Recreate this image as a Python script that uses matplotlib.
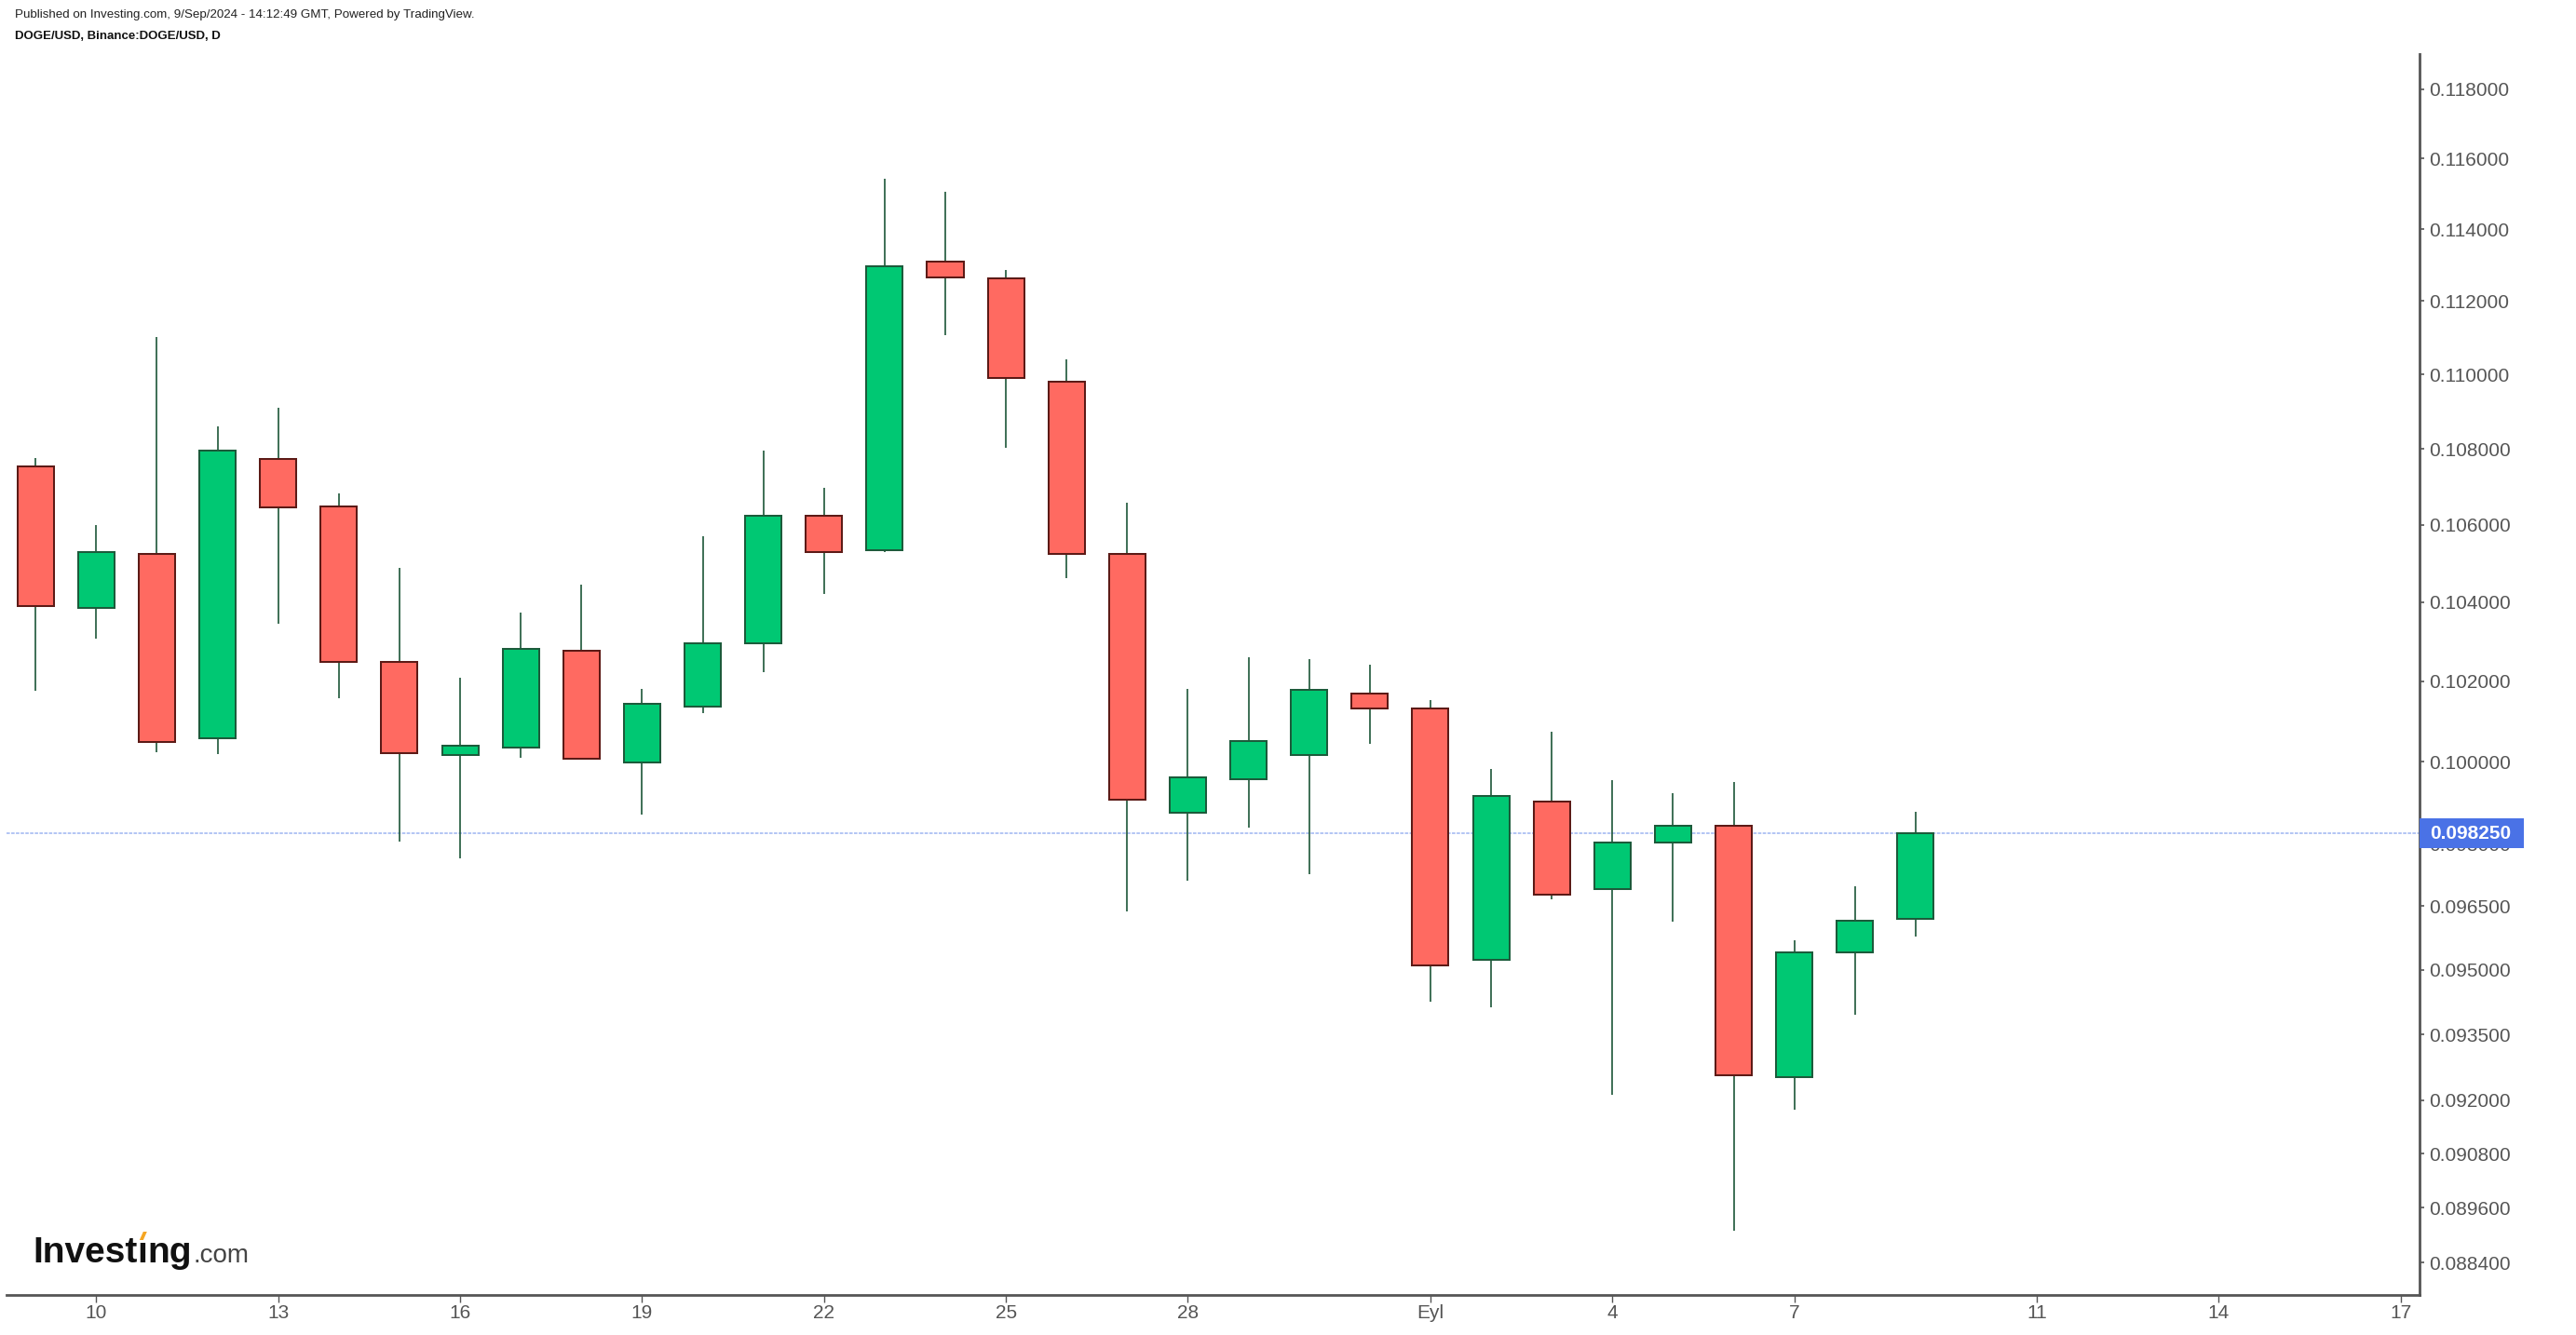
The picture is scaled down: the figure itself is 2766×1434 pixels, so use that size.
import numpy as np
import pandas as pd
import matplotlib
matplotlib.use('Agg')
import matplotlib.pyplot as plt
from matplotlib.patches import Rectangle, Polygon
from matplotlib.ticker import FixedLocator, NullLocator, NullFormatter

# daily DOGE/USD candles, 9 Aug - 9 Sep 2024
start = '2024-08-09'
dates = pd.date_range(start, periods=32, freq='D')
open_ = [0.10754, 0.10386, 0.10525, 0.10057, 0.10774, 0.10647, 0.10249, 0.10016,
         0.10035, 0.10277, 0.09998, 0.10137, 0.10295, 0.10623, 0.10534, 0.11310,
         0.11264, 0.10979, 0.10525, 0.09875, 0.09957, 0.10017, 0.10169, 0.10132,
         0.09523, 0.09902, 0.09691, 0.09803, 0.09843, 0.09253, 0.09541, 0.09620]
high = [0.10776, 0.10600, 0.11102, 0.10860, 0.10910, 0.10683, 0.10489, 0.10208,
        0.10373, 0.10445, 0.10181, 0.10570, 0.10796, 0.10697, 0.11542, 0.11506,
        0.11286, 0.11041, 0.10658, 0.10180, 0.10259, 0.10255, 0.10241, 0.10152,
        0.09982, 0.10074, 0.09954, 0.09923, 0.09949, 0.09570, 0.09697, 0.09877]
low = [0.10176, 0.10308, 0.10023, 0.10018, 0.10345, 0.10157, 0.09805, 0.09765,
       0.10009, 0.10005, 0.09870, 0.10121, 0.10223, 0.10422, 0.10530, 0.11107,
       0.10802, 0.10461, 0.09637, 0.09712, 0.09838, 0.09726, 0.10043, 0.09426,
       0.09413, 0.09667, 0.09212, 0.09613, 0.08910, 0.09179, 0.09396, 0.09579]
close = [0.10391, 0.10530, 0.10048, 0.10795, 0.10646, 0.10249, 0.10020, 0.10039,
         0.10282, 0.10008, 0.10143, 0.10296, 0.10623, 0.10529, 0.11297, 0.11265,
         0.10989, 0.10525, 0.09907, 0.09962, 0.10050, 0.10179, 0.10132, 0.09511,
         0.09916, 0.09678, 0.09803, 0.09843, 0.09257, 0.09542, 0.09616, 0.09825]

tick_dates = ['2024-08-10', '2024-08-13', '2024-08-16', '2024-08-19', '2024-08-22',
              '2024-08-25', '2024-08-28', '2024-09-01', '2024-09-04', '2024-09-07',
              '2024-09-11', '2024-09-14', '2024-09-17']
tick_labels = ['10', '13', '16', '19', '22', '25', '28', 'Eyl', '4', '7', '11', '14', '17']
price_ticks = [0.118, 0.116, 0.114, 0.112, 0.110, 0.108, 0.106, 0.104, 0.102, 0.100,
               0.098, 0.0965, 0.095, 0.0935, 0.092, 0.0908, 0.0896, 0.0884]

GREEN = '#00c873'
RED = '#ff6a61'
GREEN_EDGE = '#1c5b3b'
RED_EDGE = '#5c1a16'
WICK = '#1d5638'
AXIS = '#555555'

plt.rcParams['font.family'] = ['Liberation Sans', 'DejaVu Sans']

W, H = 2766, 1434
fig = plt.figure(figsize=(W / 100, H / 100), dpi=100)
fig.patch.set_facecolor('white')
ax = fig.add_axes([7 / W, 43.5 / H, 2591 / W, 1332.5 / H])

t0 = pd.Timestamp(start)
x = np.array([(d - t0).days for d in dates])
o = np.array(open_)
c = np.array(close)
up = c >= o

ax.vlines(x, low, high, color=WICK, linewidth=1.2, zorder=2)
ax.bar(x[up], c[up] - o[up], bottom=o[up], width=0.6, color=GREEN,
       edgecolor=GREEN_EDGE, linewidth=1.45, zorder=3)
ax.bar(x[~up], o[~up] - c[~up], bottom=c[~up], width=0.6, color=RED,
       edgecolor=RED_EDGE, linewidth=1.45, zorder=3)

ax.set_yscale('log')
ax.set_ylim(0.087705, 0.119025)
ax.set_xlim(-0.48, 39.31)

ax.yaxis.tick_right()
ax.yaxis.set_major_locator(FixedLocator(price_ticks))
ax.yaxis.set_minor_locator(NullLocator())
ax.yaxis.set_minor_formatter(NullFormatter())
ax.set_yticklabels(['%.6f' % p for p in price_ticks])

ax.set_xticks([(pd.Timestamp(d) - t0).days for d in tick_dates])
ax.set_xticklabels(tick_labels)

for s in ['top', 'left']:
    ax.spines[s].set_visible(False)
for s in ['right', 'bottom']:
    ax.spines[s].set_color(AXIS)
    ax.spines[s].set_linewidth(2.0)
ax.tick_params(axis='y', which='major', direction='out', length=3.6, width=1.2,
               color=AXIS, labelcolor=AXIS, labelsize=15, pad=4)
ax.tick_params(axis='x', which='major', direction='out', length=5.5, width=1.0,
               color=AXIS, labelcolor=AXIS, labelsize=15, pad=2)

# last price line and label (the label box sits over the 0.098 tick, as in the source)
last = close[-1]
ax.axhline(last, color='#adc0f3', linewidth=1.3, linestyle=(0, (2, 0.8)), zorder=1)
ax.add_patch(Rectangle((1.0, last / 1.00367), 0.0432, last * 1.00367 - last / 1.00367,
                       transform=ax.get_yaxis_transform(), facecolor='#4a72e6',
                       edgecolor='none', clip_on=False, zorder=5))
ax.text(1.0042, last, '%.6f' % last, transform=ax.get_yaxis_transform(),
        ha='left', va='center', color='white', fontsize=15, fontweight='bold',
        clip_on=False, zorder=6)

# header
fig.text(16 / W, 1 - 16 / H,
         'Published on Investing.com, 9/Sep/2024 - 14:12:49 GMT, Powered by TradingView.',
         fontsize=9.6, color='#222222', va='center', ha='left')
fig.text(16 / W, 1 - 39 / H, 'DOGE/USD, Binance:DOGE/USD, D',
         fontsize=9.5, fontweight='bold', color='#111111', va='center', ha='left')

# Investing.com logo
r = fig.canvas.get_renderer()
base = 1 - 1356 / H
xpos = 35
pieces = [('Invest', 'bold', '#111111', 28), ('\u0131', 'bold', '#111111', 28),
          ('ng', 'bold', '#111111', 28), ('.com', 'normal', '#444444', 20)]
dot_x = None
for txt, wt, col, fs in pieces:
    t = fig.text(xpos / W, base, txt, fontsize=fs, fontweight=wt, color=col,
                 va='baseline', ha='left')
    bb = t.get_window_extent(r)
    if txt == '\u0131':
        dot_x = (bb.x0 + bb.x1) / 2
    xpos = bb.x1 + (2 if txt == 'ng' else 0)
if dot_x is not None:
    yb = 1328
    pts = [(dot_x - 3, yb + 4), (dot_x + 1, yb + 4), (dot_x + 5, yb - 5), (dot_x + 1, yb - 5)]
    fig.patches.append(Polygon([(px / W, 1 - py / H) for px, py in pts], closed=True,
                               transform=fig.transFigure, facecolor='#f5a623',
                               edgecolor='none'))

fig.savefig('out.png', dpi=100, facecolor='white')
